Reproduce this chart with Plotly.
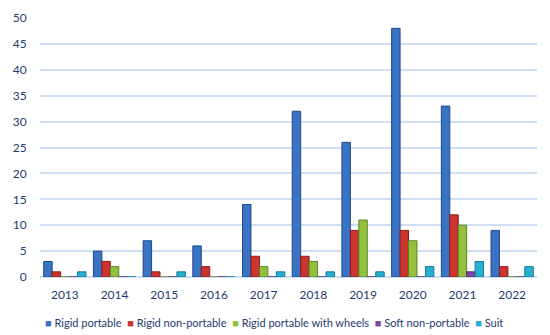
import plotly.graph_objects as go

years = ["2013", "2014", "2015", "2016", "2017", "2018", "2019", "2020", "2021", "2022"]
rigid_portable = [3, 5, 7, 6, 14, 32, 26, 48, 33, 9]
rigid_non_portable = [1, 3, 1, 2, 4, 4, 9, 9, 12, 2]
rigid_wheels = [0, 2, 0, 0, 2, 3, 11, 7, 10, 0]
soft_non_portable = [0, 0, 0, 0, 0, 0, 0, 0, 1, 0]
suit = [1, 0, 1, 0, 1, 1, 1, 2, 3, 2]

series_names = ["Rigid portable", "Rigid non-portable", "Rigid portable with wheels",
                "Soft non-portable", "Suit"]
series_values = [rigid_portable, rigid_non_portable, rigid_wheels, soft_non_portable, suit]
colors = ["#3a72c4", "#cc3430", "#93c13e", "#7a48a8", "#27b0d0"]
edges = ["#1f4a8a", "#8a1d1a", "#5f8424", "#4d2870", "#157a92"]

fig = go.Figure()
for name, vals, col, edge in zip(series_names, series_values, colors, edges):
    fig.add_trace(go.Bar(
        x=years, y=vals, name=name,
        marker=dict(color=col, line=dict(color=edge, width=1)),
    ))

text_col = "#1f3a6e"

# legend as a single line of coloured squares + names
legend_text = "&nbsp;&nbsp;".join(
    f"<span style='color:{c}'>■</span> {n}" for n, c in zip(series_names, colors)
)
fig.add_annotation(
    text=legend_text, xref="paper", yref="paper", x=0.471, y=-0.177,
    xanchor="center", yanchor="middle", showarrow=False,
    font=dict(family="Lato, Open Sans, sans-serif", size=11, color=text_col),
)

fig.update_layout(
    width=542, height=327,
    margin=dict(l=32, r=13, t=10, b=58, autoexpand=False),
    paper_bgcolor="white", plot_bgcolor="white",
    barmode="group", bargap=0.15, bargroupgap=0.0,
    font=dict(family="Lato, Open Sans, sans-serif", size=12, color=text_col),
    showlegend=False,
    xaxis=dict(showgrid=False, showline=False, ticks="outside", ticklen=7, tickcolor="rgba(0,0,0,0)",
               tickfont=dict(size=12, color=text_col)),
    yaxis=dict(range=[0, 50], tickmode="linear", tick0=0, dtick=5, showgrid=True,
               gridcolor="#cfdff3", gridwidth=1.5,
               zeroline=True, zerolinecolor="#cfdff3", zerolinewidth=1.5,
               showline=False, ticks="outside", ticklen=10, tickcolor="rgba(0,0,0,0)",
               tickfont=dict(size=12, color=text_col)),
)

fig.write_html("out.html")
